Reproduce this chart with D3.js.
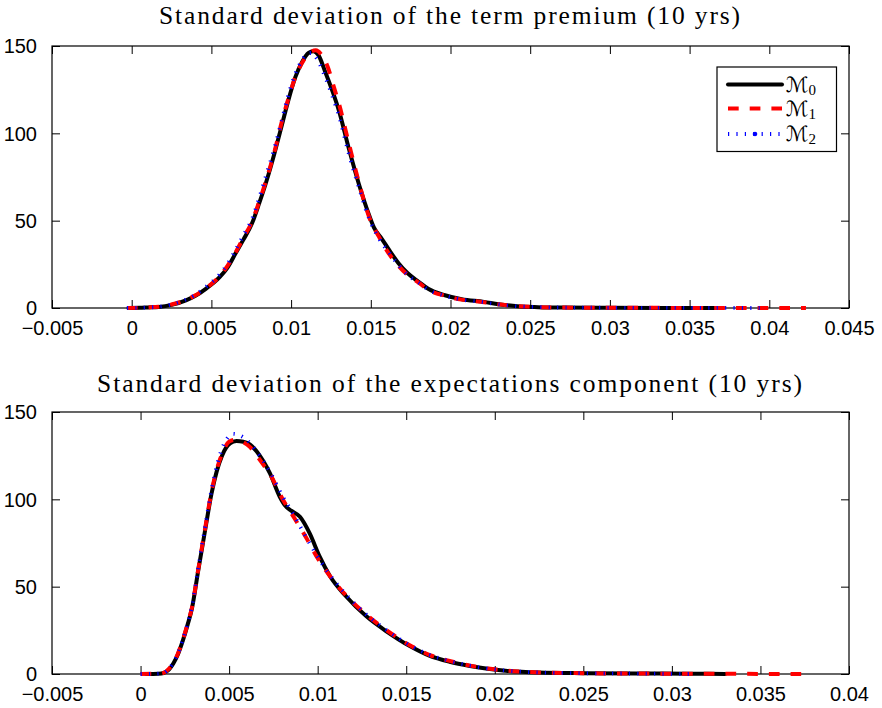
<!DOCTYPE html>
<html>
<head>
<meta charset="utf-8">
<script src="https://cdn.jsdelivr.net/npm/d3@7"></script>
<style>
  html, body { margin: 0; padding: 0; background: #fff; }
  svg { display: block; }
</style>
</head>
<body>
<svg id="chart" width="882" height="708"></svg>
<script>
// ---------- DATA ----------
const titles = [
  "Standard deviation of the term premium (10 yrs)",
  "Standard deviation of the expectations component (10 yrs)"
];
const seriesNames = ["M0", "M1", "M2"];
const legendSubs = ["0", "1", "2"];

// Top panel x ticks and labels
const topXTicks = [-0.005, 0, 0.005, 0.01, 0.015, 0.02, 0.025, 0.03, 0.035, 0.04, 0.045];
const topXLabels = ["\u22120.005", "0", "0.005", "0.01", "0.015", "0.02", "0.025", "0.03", "0.035", "0.04", "0.045"];
// Bottom panel x ticks and labels
const botXTicks = [-0.005, 0, 0.005, 0.01, 0.015, 0.02, 0.025, 0.03, 0.035, 0.04];
const botXLabels = ["\u22120.005", "0", "0.005", "0.01", "0.015", "0.02", "0.025", "0.03", "0.035", "0.04"];
const yTicks = [0, 50, 100, 150];
const yLabels = ["0", "50", "100", "150"];

// Top panel: term premium
const topX_M0 = [-0.0002, 0.0005, 0.001, 0.0017, 0.0025, 0.0034, 0.004, 0.00465, 0.0055, 0.006, 0.0065, 0.007, 0.00755, 0.008, 0.0084, 0.0086, 0.009, 0.00943, 0.0098, 0.01026, 0.0107, 0.0111, 0.0114, 0.0117, 0.01215, 0.0126, 0.013, 0.0136, 0.01425, 0.0149, 0.0152, 0.0157, 0.0162, 0.01675, 0.0173, 0.018, 0.0186, 0.01965, 0.0207, 0.0221, 0.023, 0.0242, 0.0255, 0.027, 0.03, 0.033, 0.0367];
const topY_M0 = [0, 0.1, 0.3, 0.6, 1.8, 4.4, 7, 11, 17.5, 23, 31, 39, 48.5, 60, 71, 77, 90, 105, 118, 132, 141, 146, 147, 145, 135, 124, 113, 92, 71, 53, 46, 39.5, 32.5, 25.5, 20, 15, 11, 7.3, 5, 3.5, 2.2, 1, 0.5, 0.25, 0.12, 0.05, 0];

const topX_M1 = [-0.0003, 0.0005, 0.001, 0.0017, 0.0025, 0.0034, 0.004, 0.00465, 0.0055, 0.006, 0.0065, 0.007, 0.00755, 0.008, 0.0084, 0.009, 0.0094, 0.0098, 0.0103, 0.0108, 0.0112, 0.01155, 0.0119, 0.0123, 0.0127, 0.013, 0.0136, 0.01425, 0.0149, 0.0155, 0.016, 0.01675, 0.0173, 0.018, 0.0186, 0.01965, 0.0207, 0.0221, 0.023, 0.0242, 0.0255, 0.027, 0.03, 0.033, 0.036, 0.039, 0.0423];
const topY_M1 = [0, 0.1, 0.3, 0.7, 2, 4.6, 7.3, 11.3, 18, 24, 31.5, 40, 49.5, 61, 72, 91, 106, 119, 133, 142, 146.5, 147.5, 145, 138, 126, 117, 95, 72, 52, 41, 33, 24, 19, 14.5, 10.5, 7, 4.8, 3.3, 2.1, 1.0, 0.5, 0.25, 0.12, 0.08, 0.05, 0.03, 0];

const topX_M2 = [-0.0003, 0.0005, 0.001, 0.0017, 0.0025, 0.0034, 0.004, 0.00465, 0.0055, 0.006, 0.0065, 0.007, 0.00755, 0.008, 0.0084, 0.009, 0.00943, 0.0098, 0.01026, 0.0107, 0.011, 0.0113, 0.0116, 0.01215, 0.0126, 0.013, 0.0136, 0.01425, 0.0149, 0.0155, 0.0162, 0.01675, 0.0173, 0.018, 0.0186, 0.01965, 0.0207, 0.0221, 0.023, 0.0242, 0.0255, 0.027, 0.03, 0.033, 0.036, 0.0394];
const topY_M2 = [0, 0.1, 0.3, 0.7, 2, 4.8, 7.6, 12, 19, 25, 33, 41.5, 51, 63, 75, 93, 108, 121, 134, 142, 145.5, 146, 143, 132, 121, 110, 89, 69, 51, 40, 31, 24.5, 19, 14.5, 10.5, 7, 4.8, 3.3, 2.1, 1.0, 0.5, 0.25, 0.12, 0.07, 0.04, 0];

// Bottom panel: expectations component
const botX_M0 = [0.0003, 0.001, 0.0013, 0.0016, 0.00185, 0.0021, 0.0024, 0.00265, 0.0029, 0.00326, 0.00364, 0.004, 0.0043, 0.0046, 0.00505, 0.00542, 0.0058, 0.00617, 0.00655, 0.00692, 0.0073, 0.00786, 0.0082, 0.0085, 0.009, 0.00955, 0.0101, 0.0107, 0.0116, 0.01275, 0.0139, 0.0152, 0.0163, 0.01745, 0.0186, 0.0196, 0.0206, 0.0225, 0.025, 0.028, 0.031, 0.033];
const botY_M0 = [0, 0.2, 0.6, 2.5, 6, 11, 19.5, 28, 37.5, 59.5, 82, 103, 116, 125, 132, 133.4, 133, 131.5, 127.5, 122, 115, 101.5, 96, 93.5, 90, 80.5, 67.5, 56, 44.5, 33, 24.3, 16, 10.5, 7, 4.6, 3, 1.9, 0.9, 0.5, 0.3, 0.15, 0];

const botX_M1 = [0, 0.001, 0.0013, 0.0016, 0.00185, 0.0021, 0.0024, 0.00265, 0.0029, 0.00326, 0.00364, 0.004, 0.0043, 0.0046, 0.005, 0.0053, 0.0056, 0.00617, 0.0066, 0.00692, 0.0073, 0.00805, 0.0087, 0.00937, 0.00993, 0.0107, 0.0116, 0.01275, 0.0139, 0.0152, 0.0163, 0.01745, 0.0186, 0.0196, 0.0206, 0.0225, 0.025, 0.028, 0.031, 0.034, 0.0373];
const botY_M1 = [0, 0.2, 0.7, 3, 6.5, 11.5, 20, 28.5, 38, 60, 83, 104, 117, 126, 133, 134, 133.5, 130, 124.5, 120, 114.5, 99.6, 89, 77.7, 67.5, 56, 45, 34, 25, 16.5, 11, 7.5, 4.8, 3.1, 2, 0.9, 0.45, 0.25, 0.15, 0.08, 0];

const botX_M2 = [0, 0.001, 0.0013, 0.0016, 0.00185, 0.0021, 0.0024, 0.00265, 0.0029, 0.00326, 0.00364, 0.004, 0.0043, 0.0046, 0.0049, 0.0052, 0.0055, 0.006, 0.0065, 0.00692, 0.0074, 0.008, 0.0086, 0.0092, 0.0098, 0.0107, 0.0116, 0.01275, 0.0139, 0.0152, 0.0163, 0.01745, 0.0186, 0.0196, 0.0206, 0.0225, 0.025, 0.028, 0.031];
const botY_M2 = [0, 0.2, 0.7, 3, 6.5, 11.5, 20, 28.5, 38.5, 61, 84, 105, 119, 129, 135, 137.5, 137, 134, 128, 122, 114, 102, 92, 81, 70.5, 56.5, 45.5, 34, 25, 16.5, 11, 7.5, 4.8, 3.1, 2, 0.9, 0.45, 0.25, 0];

// ---------- DRAWING ----------
const svg = d3.select("#chart");
const styles = [
  { color: "#000000", width: 4, dash: null, cap: "round" },
  { color: "#ff0000", width: 4, dash: "10.7,11", cap: "butt" },
  { color: "#0000ff", width: 3.8, dash: "1.2,7.2", cap: "butt" }
];

const panels = [
  { title: titles[0], titleY: 24, titleW: 581, top: 46, bottom: 308, xDomain: [-0.005, 0.045], xTicks: topXTicks, xLabels: topXLabels,
    series: [[topX_M0, topY_M0], [topX_M1, topY_M1], [topX_M2, topY_M2]], legend: true },
  { title: titles[1], titleY: 392, titleW: 705, top: 412, bottom: 674, xDomain: [-0.005, 0.04], xTicks: botXTicks, xLabels: botXLabels,
    series: [[botX_M0, botY_M0], [botX_M1, botY_M1], [botX_M2, botY_M2]], legend: false }
];
const left = 52, right = 849;
const tickLen = 8;
const labelFont = "'Liberation Sans', Arial, Helvetica, sans-serif";

panels.forEach(p => {
  const x = d3.scaleLinear().domain(p.xDomain).range([left, right]);
  const y = d3.scaleLinear().domain([0, 150]).range([p.bottom, p.top]);
  const g = svg.append("g");

  // title
  const t = g.append("text")
    .attr("x", (left + right) / 2).attr("y", p.titleY)
    .attr("text-anchor", "middle")
    .attr("font-family", "'Liberation Serif', 'Times New Roman', serif")
    .attr("font-size", 25.5)
    .attr("fill", "#000")
    .text(p.title);
  const len = t.node().getComputedTextLength();
  if (len > 0 && len < p.titleW) {
    t.attr("letter-spacing", ((p.titleW - len) / (p.title.length - 1)).toFixed(2));
  }

  // axes (inward ticks on all sides)
  const axB = d3.axisBottom(x).tickValues(p.xTicks).tickSize(-tickLen).tickFormat((d, i) => p.xLabels[i]).tickPadding(13);
  const axT = d3.axisTop(x).tickValues(p.xTicks).tickSize(-tickLen).tickFormat("");
  const axL = d3.axisLeft(y).tickValues(yTicks).tickSize(-tickLen).tickFormat((d, i) => yLabels[i]).tickPadding(15);
  const axR = d3.axisRight(y).tickValues(yTicks).tickSize(-tickLen).tickFormat("");

  const gb = g.append("g").attr("transform", `translate(0,${p.bottom})`).call(axB);
  const gt = g.append("g").attr("transform", `translate(0,${p.top})`).call(axT);
  const gl = g.append("g").attr("transform", `translate(${left},0)`).call(axL);
  const gr = g.append("g").attr("transform", `translate(${right},0)`).call(axR);
  [gb, gt, gl, gr].forEach(a => {
    a.select(".domain").remove();
    a.selectAll(".tick line").attr("stroke", "#000").attr("stroke-width", 1);
    a.selectAll(".tick text").attr("font-family", labelFont).attr("font-size", 20).attr("fill", "#000");
  });
  gb.selectAll(".tick text").attr("dy", "0.71em");
  gl.selectAll(".tick text").attr("dy", "0.34em");

  // box
  g.append("rect")
    .attr("x", left).attr("y", p.top)
    .attr("width", right - left).attr("height", p.bottom - p.top)
    .attr("fill", "none").attr("stroke", "#000").attr("stroke-width", 1.2);

  // series
  const line = d3.line().x(d => x(d[0])).y(d => y(d[1])).curve(d3.curveMonotoneX);
  p.series.forEach((s, i) => {
    const pts = s[0].map((xv, j) => [xv, s[1][j]]);
    const st = styles[i];
    g.append("path")
      .datum(pts)
      .attr("d", line)
      .attr("fill", "none")
      .attr("stroke", st.color)
      .attr("stroke-width", st.width)
      .attr("stroke-linejoin", "round")
      .attr("stroke-linecap", st.cap)
      .attr("stroke-dasharray", st.dash);
  });

  // legend
  if (p.legend) {
    const lg = g.append("g");
    lg.append("rect").attr("x", 717).attr("y", 67).attr("width", 119.5).attr("height", 84.5)
      .attr("fill", "#fff").attr("stroke", "#000").attr("stroke-width", 1.2);
    const rows = [84.5, 108.5, 134];
    seriesNames.forEach((nm, i) => {
      const st = styles[i];
      lg.append("line").attr("x1", 728).attr("x2", 782).attr("y1", rows[i]).attr("y2", rows[i])
        .attr("stroke", st.color).attr("stroke-width", st.width)
        .attr("stroke-linecap", st.cap).attr("stroke-dasharray", st.dash);
      if (i === 2) {
        lg.append("circle").attr("cx", 755).attr("cy", rows[i]).attr("r", 2.3).attr("fill", st.color);
      }
      const tx = lg.append("text").attr("x", 786).attr("y", rows[i] + 7)
        .attr("font-family", "'DejaVu Serif', 'DejaVu Sans', serif")
        .attr("font-size", 21).attr("fill", "#000");
      tx.append("tspan").text("\u2133");
      tx.append("tspan").attr("font-size", 15)
        .attr("font-family", "'Liberation Serif', serif").attr("dy", 3).text(legendSubs[i]);
    });
  }
});
</script>
</body>
</html>
